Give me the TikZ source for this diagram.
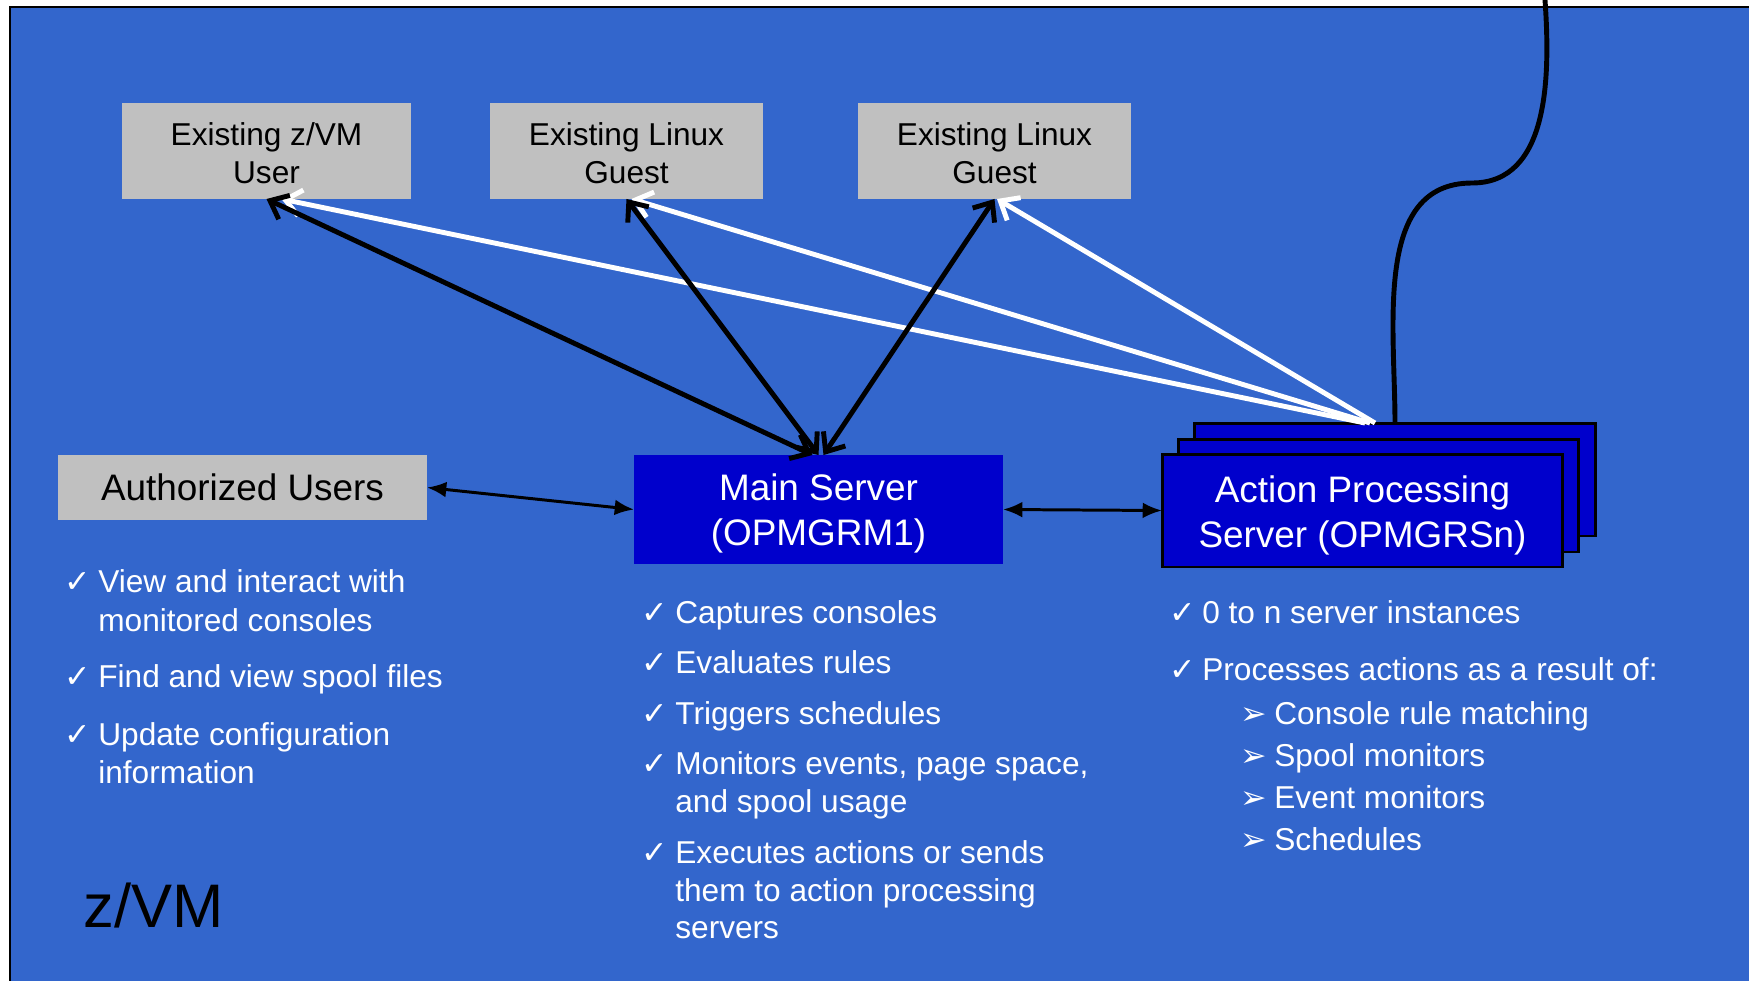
\documentclass[tikz,border=0pt]{standalone}
\usepackage{fontspec}
\setmainfont{Liberation Sans}
\newfontfamily\simbolos{DejaVu Sans}
\usetikzlibrary{arrows.meta}
\definecolor{fondo}{RGB}{51,102,204}
\definecolor{azulserv}{RGB}{0,0,204}
\definecolor{gris}{RGB}{192,192,192}
\newcommand{\bajar}[1]{\rule{0pt}{#1}}

\begin{document}
\begin{tikzpicture}[x=0.02cm, y=-0.02cm,
    caja/.style={fill=gris, inner sep=0, outer sep=0, align=center,
      font=\fontsize{18}{22}\selectfont},
    serv/.style={fill=azulserv, inner sep=0, outer sep=0, text=white, align=center,
      font=\fontsize{21}{25.5}\selectfont},
    pila/.style={serv, draw=black, line width=1.7pt, minimum width=8.02cm, minimum height=2.26cm},
    txt/.style={text=white, anchor=base west, inner sep=0, font=\fontsize{18}{22}\selectfont},
    vinieta/.style={text=white, anchor=base west, inner sep=0, font=\simbolos\fontsize{18}{20}\selectfont},
    negra/.style={line width=2.8pt, {Straight Barb[length=9pt,width=15pt]}-{Straight Barb[length=9pt,width=15pt]}},
    blanca/.style={white, line width=2.8pt, -{Straight Barb[length=9pt,width=15pt]}},
    fina/.style={line width=1.7pt, {Latex[length=11pt,width=9pt]}-{Latex[length=11pt,width=9pt]}}]
\useasboundingbox (0,0) rectangle (1749,981);
\fill[fondo] (10,7) rectangle (1749,981);
\draw[line width=1.7pt] (10,981) -- (10,7) -- (1749,7);

% cajas de arriba
\node[caja, minimum width=5.78cm, minimum height=1.92cm] (zvm) at (266.5,151) {\bajar{15.5pt}Existing z/VM\\User};
\node[caja, minimum width=5.46cm, minimum height=1.92cm] (lx1) at (626.5,151) {\bajar{15.5pt}Existing Linux\\Guest};
\node[caja, minimum width=5.46cm, minimum height=1.92cm] (lx2) at (994.5,151) {\bajar{15.5pt}Existing Linux\\Guest};

\node[caja, minimum width=7.38cm, minimum height=1.3cm, font=\fontsize{21}{25.5}\selectfont]
  (auth) at (242.5,487.5) {Authorized Users};
\node[serv, minimum width=7.38cm, minimum height=2.18cm] (main) at (818.5,509.5) {\bajar{20pt}Main Server\\(OPMGRM1)};
\node[pila] (aps3) at (1395,479.5) {};
\node[pila] (aps2) at (1378.5,495.5) {};
\node[pila] (aps1) at (1362.5,510.5) {\bajar{21pt}Action Processing\\Server (OPMGRSn)};

\coordinate (arriba) at (1545,0);
\draw[line width=2.8pt] (aps3.north) to[out=90,in=180] (1472,183) to[out=0,in=-86] (arriba);

\draw[blanca] ([xshift=-0.6cm]aps3.north) -- ([xshift=0.3cm]zvm.south);
\draw[blanca] ([xshift=-0.5cm]aps3.north) -- ([xshift=0.1cm]lx1.south);
\draw[blanca] ([xshift=-0.4cm]aps3.north) -- ([xshift=0.05cm]lx2.south);
\draw[negra] ([xshift=-0.12cm]main.north) -- (zvm.south);
\draw[negra] (main.north) -- (lx1.south);
\draw[negra] ([xshift=0.1cm]main.north) -- (lx2.south);
\draw[fina] (auth.east) -- (main.west);
\draw[fina] (main.east) -- (aps1.west);

% listas
\foreach \y [count=\i] in {592,687,745}
  \node[vinieta] (ca\i) at (64,\y) {✓};
\foreach \y/\t [count=\i] in {592/View and interact with, 631/monitored consoles,
    687/Find and view spool files, 745/Update configuration, 783/information}
  \node[txt] (a\i) at (98,\y) {\t};

\foreach \y [count=\i] in {623,673,724,774,863}
  \node[vinieta] (cb\i) at (641,\y) {✓};
\foreach \y/\t [count=\i] in {623/Captures consoles, 673/Evaluates rules, 724/Triggers schedules,
    774/{Monitors events, page space,}, 812/and spool usage, 863/Executes actions or sends,
    901/them to action processing, 938/servers}
  \node[txt] (b\i) at (675,\y) {\t};

\foreach \y [count=\i] in {623,680}
  \node[vinieta] (cc\i) at (1169,\y) {✓};
\node[txt] (c1) at (1202,623) {0 to n server instances};
\node[txt] (c2) at (1202,680) {Processes actions as a result of:};
\foreach \y/\t [count=\i] in {724/Console rule matching, 766/Spool monitors,
    808/Event monitors, 850/Schedules} {
  \node[vinieta] (fd\i) at (1240,\y) {➢};
  \node[txt] (d\i) at (1274,\y) {\t};
}

\node[anchor=base west, inner sep=0, font=\fontsize{35}{40}\selectfont] (zvmlbl) at (83,927) {z/VM};
\end{tikzpicture}
\end{document}
